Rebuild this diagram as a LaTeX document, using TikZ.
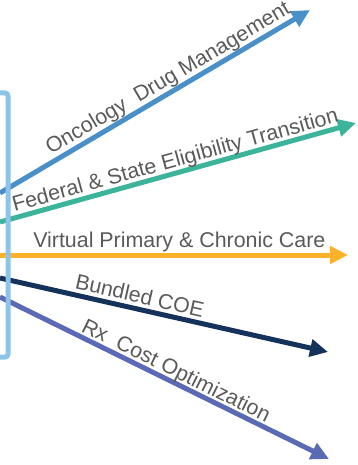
\documentclass[tikz,border=0pt]{standalone}
\usepackage{fontspec}
\setmainfont{Liberation Sans}
\usetikzlibrary{arrows.meta,calc}
\definecolor{boxblue}{HTML}{8EC3EA}
\definecolor{cblue}{HTML}{4A90C8}
\definecolor{cteal}{HTML}{3CB39B}
\definecolor{corange}{HTML}{FBB12A}
\definecolor{cnavy}{HTML}{15335A}
\definecolor{cpurple}{HTML}{5B6AB4}
\definecolor{txtgray}{HTML}{5A5A5A}
\tikzset{
  arr/.style={line width=5pt, -{Triangle[length=18pt,width=17pt]}},
  lbl/.style={text=txtgray, font=\fontsize{21.4}{24}\selectfont, inner sep=0pt, anchor=base west},
  framebox/.style={draw=boxblue, line width=5pt, rounded corners=3pt}
}
\begin{document}
\begin{tikzpicture}[x=1pt,y=-1pt]
\useasboundingbox (0,0) rectangle (357,465);
% start and end points
\coordinate (s1) at (0,193);  \coordinate (t1) at (310,10);
\coordinate (s2) at (0,222);  \coordinate (t2) at (356,123);
\coordinate (s3) at (0,255);  \coordinate (t3) at (348,255);
\coordinate (s4) at (0,278);  \coordinate (t4) at (328,352);
\coordinate (s5) at (0,297);  \coordinate (t5) at (329,459);
% arrows
\draw[arr, cblue] (s1) -- (t1);
\draw[arr, cteal] (s2) -- (t2);
\draw[arr, corange] (s3) -- (t3);
\draw[arr, cnavy] (s4) -- (t4);
\draw[arr, cpurple] (s5) -- (t5);
% label anchor points
\path (s1) -- (t1) coordinate[pos=0.175] (p1);
\path (s2) -- (t2) coordinate[pos=0.045] (p2);
\path (s3) -- (t3) coordinate[pos=0.095] (p3);
\path (s4) -- (t4) coordinate[pos=0.222] (p4);
\path (s5) -- (t5) coordinate[pos=0.237] (p5);
\node[lbl, rotate=30.55] (l1) at ($(p1)!7pt!90:(t1)$) {Oncology\ \ Drug Management};
\node[lbl, rotate=15.5] (l2) at ($(p2)!6pt!90:(t2)$) {Federal \& State Eligibility Transition};
\node[lbl] (l3) at ($(p3)!8pt!90:(t3)$) {Virtual Primary \& Chronic Care};
\node[lbl, rotate=-12.71] (l4) at ($(p4)!6pt!90:(t4)$) {Bundled COE};
\node[lbl, rotate=-26.21] (l5) at ($(p5)!5pt!90:(t5)$) {Rx\ \ Cost Optimization};
% bracket box (drawn on top)
\draw[framebox] (-30,93) rectangle (8,357);
\end{tikzpicture}
\end{document}
